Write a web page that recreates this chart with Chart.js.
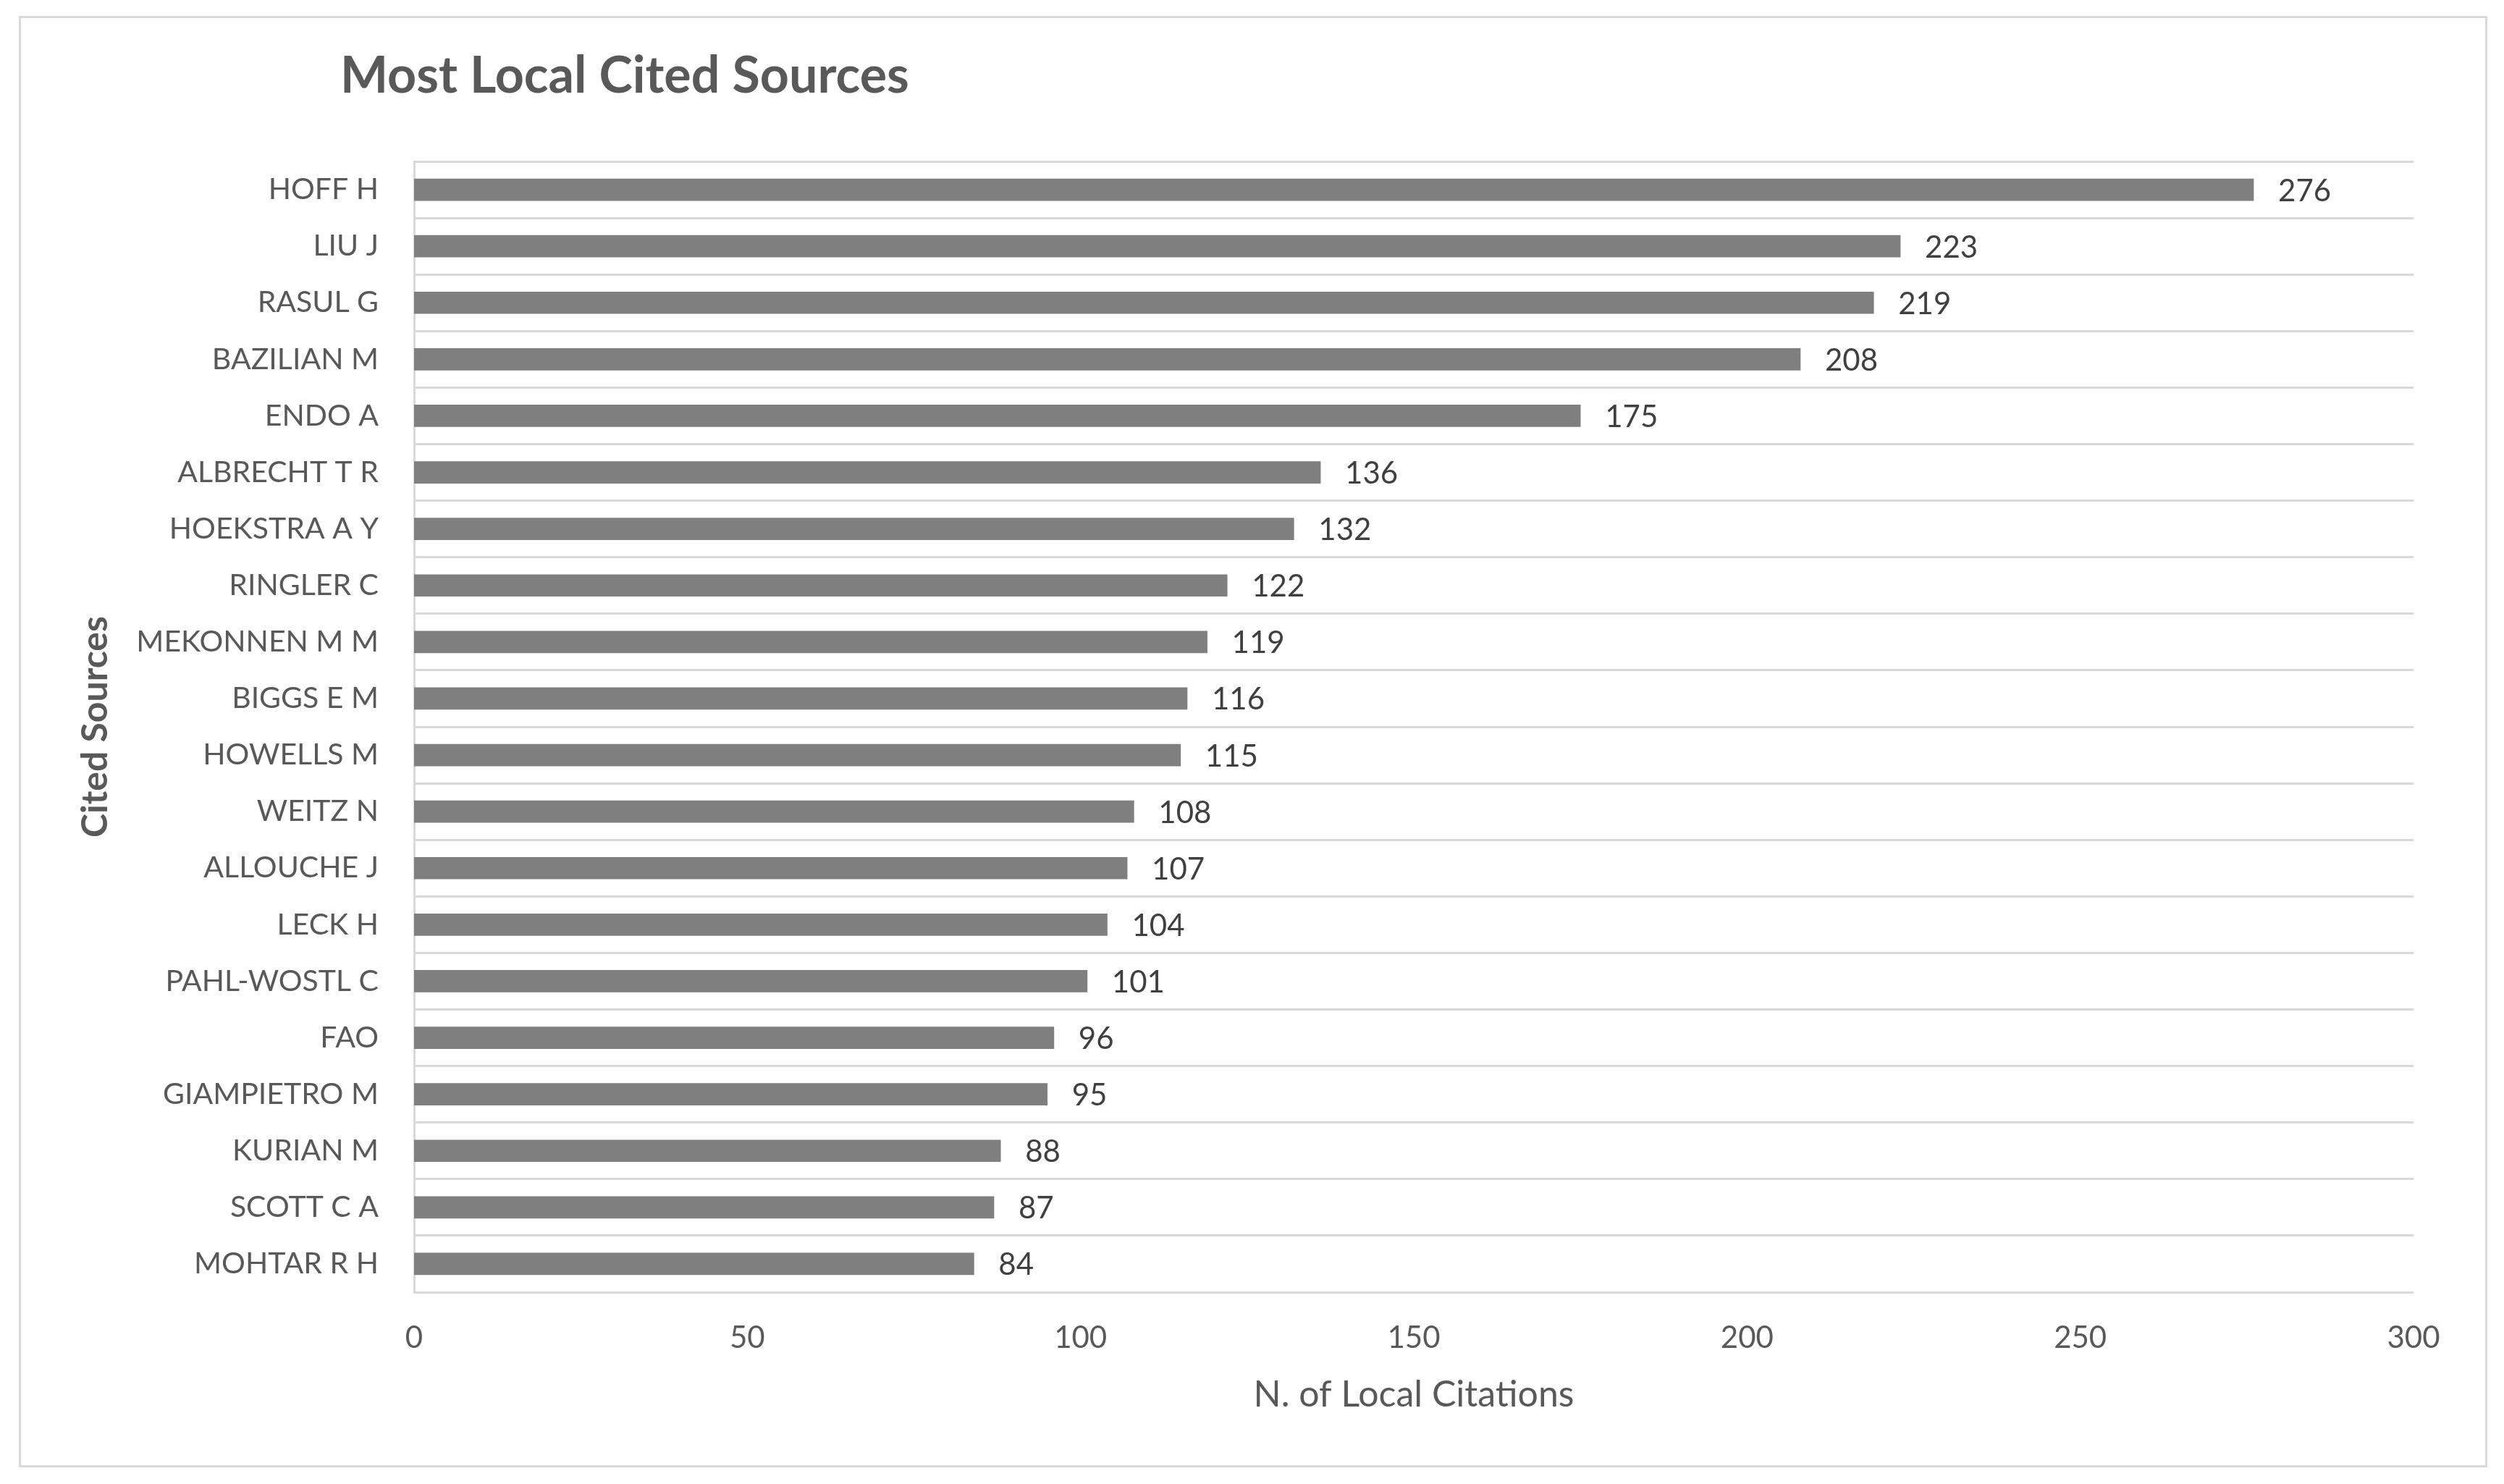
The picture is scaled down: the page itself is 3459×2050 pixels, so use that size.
<!DOCTYPE html>
<html>
<head>
<meta charset="utf-8">
<script src="https://cdn.jsdelivr.net/npm/chart.js@4.4.1/dist/chart.umd.min.js"></script>
<style>
  html, body { margin: 0; padding: 0; background: #fff; }
  .frame { position: absolute; left: 26px; top: 22px; width: 3404px; height: 1999px; border: 3px solid #d9d9d9; }
  #chart { position: absolute; left: 0; top: 0; }
</style>
</head>
<body>
<div class="frame"></div>
<canvas id="chart" width="3459" height="2050"></canvas>
<script>
// data
var sources = ["HOFF H", "LIU J", "RASUL G", "BAZILIAN M", "ENDO A", "ALBRECHT T R",
  "HOEKSTRA A Y", "RINGLER C", "MEKONNEN M M", "BIGGS E M", "HOWELLS M", "WEITZ N",
  "ALLOUCHE J", "LECK H", "PAHL-WOSTL C", "FAO", "GIAMPIETRO M", "KURIAN M",
  "SCOTT C A", "MOHTAR R H"];
var citations = [276, 223, 219, 208, 175, 136, 132, 122, 119, 116, 115, 108, 107,
  104, 101, 96, 95, 88, 87, 84];
var xTicks = [0, 50, 100, 150, 200, 250, 300];

var chartTitle = "Most Local Cited Sources";
var xTitle = "N. of Local Citations";
var yTitle = "Cited Sources";

var textGrey = '#595959';
var fontFam = 'Lato, "Open Sans", sans-serif';

//bar value labels + chart title
var extras = {
  id: 'extras',
  afterDatasetsDraw: function (chart) {
    var ctx = chart.ctx;
    var meta = chart.getDatasetMeta(0);
    ctx.save();
    ctx.fillStyle = '#404040';
    ctx.font = '42px ' + fontFam;
    ctx.textAlign = 'left';
    ctx.textBaseline = 'middle';
    meta.data.forEach(function (bar, i) {
      ctx.fillText(String(citations[i]), bar.x + 34, bar.y + 2);
    });
    ctx.restore();
  },
  afterDraw: function (chart) {
    var ctx = chart.ctx;
    ctx.save();
    ctx.fillStyle = textGrey;
    ctx.font = 'bold 70px ' + fontFam;
    ctx.textAlign = 'left';
    ctx.textBaseline = 'alphabetic';
    ctx.fillText(chartTitle, 470, 128);
    ctx.restore();
  }
};

var ctx = document.getElementById('chart').getContext('2d');
var chart = new Chart(ctx, {
  type: 'bar',
  data: {
    labels: sources,
    datasets: [{
      label: 'Local citations',
      data: citations,
      backgroundColor: '#7f7f7f',
      borderWidth: 0,
      barThickness: 30
    }]
  },
  options: {
    indexAxis: 'y',
    responsive: false,
    devicePixelRatio: 1,
    animation: false,
    layout: { padding: { left: 0, top: 223, right: 125, bottom: 0 } },
    plugins: {
      legend: { display: false },
      tooltip: { enabled: false }
    },
    scales: {
      x: {
        min: 0,
        max: 300,
        afterBuildTicks: function (scale) {
          scale.ticks = xTicks.map(function (v) { return { value: v }; });
        },
        afterFit: function (scale) { scale.height = 265; },
        grid: { display: false, drawTicks: false },
        border: { display: false },
        ticks: { color: textGrey, font: { family: fontFam, size: 42 }, padding: 38, maxRotation: 0 },
        title: {
          display: true,
          text: xTitle,
          color: textGrey,
          font: { family: fontFam, size: 50 },
          padding: { top: 0, bottom: 93 }
        }
      },
      y: {
        afterFit: function (scale) { scale.width = 572; },
        grid: { color: '#d9d9d9', lineWidth: 3, drawTicks: false, offset: true },
        border: { display: true, color: '#d9d9d9', width: 3 },
        ticks: { color: textGrey, font: { family: fontFam, size: 41 }, padding: 49, autoSkip: false },
        title: {
          display: true,
          text: yTitle,
          color: textGrey,
          font: { family: fontFam, size: 50, weight: 'bold' },
          padding: { top: 102, bottom: 0 }
        }
      }
    }
  },
  plugins: [extras]
});
</script>
</body>
</html>
